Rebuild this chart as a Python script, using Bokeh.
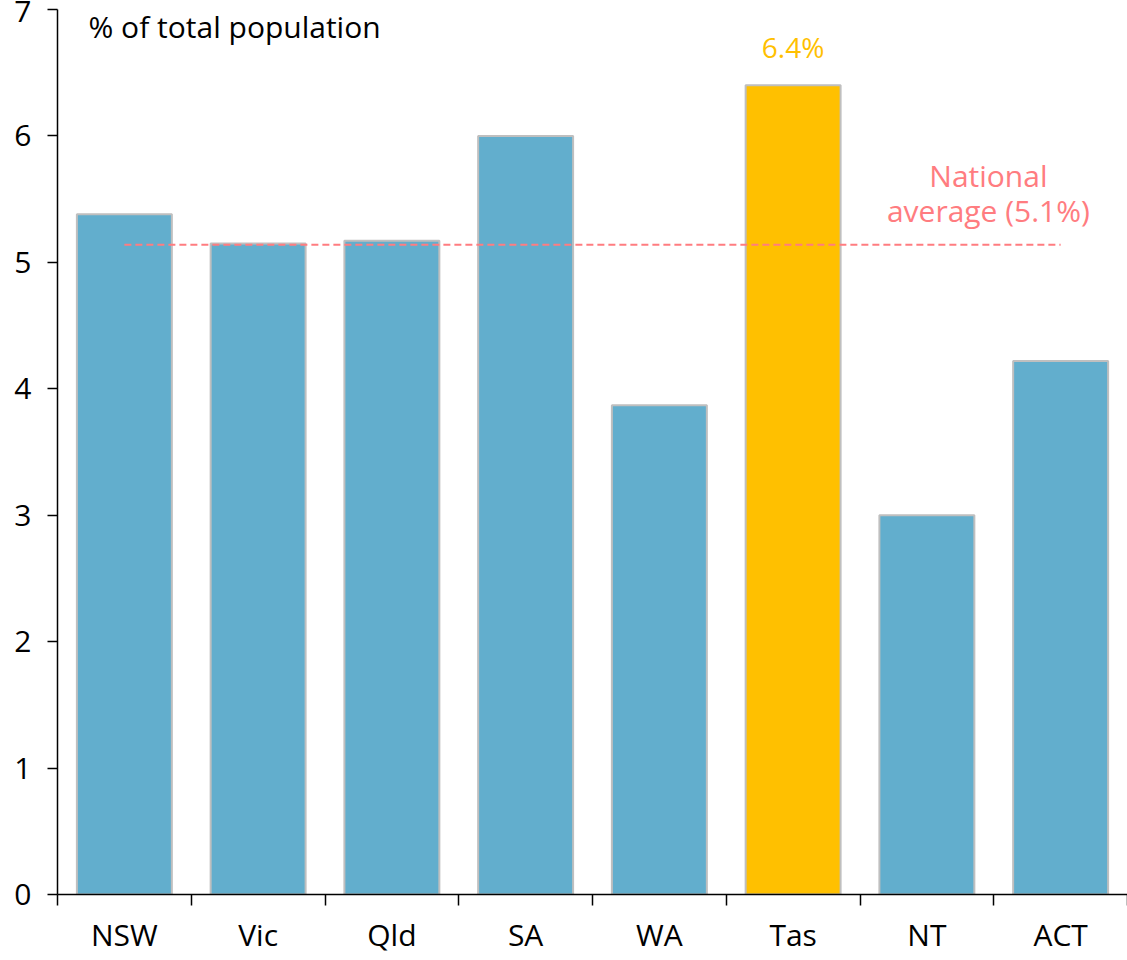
import numpy as np
from bokeh.plotting import figure
from bokeh.models import ColumnDataSource, FixedTicker, Range1d, Label
from bokeh.embed import file_html
from bokeh.resources import INLINE

states = ["NSW", "Vic", "Qld", "SA", "WA", "Tas", "NT", "ACT"]
share = [5.38, 5.15, 5.17, 6.0, 3.87, 6.4, 3.0, 4.22]
national_avg = 5.14
highlight = "Tas"
y_ticks = [0, 1, 2, 3, 4, 5, 6, 7]

BLUE = "#62AECD"
GOLD = "#FFC000"
PINK = "#FF7C80"
FONT = "Open Sans"

xpos = np.arange(len(states)) + 0.5
colors = [GOLD if s == highlight else BLUE for s in states]
src = ColumnDataSource(dict(x=xpos, top=share, color=colors, state=states))

p = figure(width=1127, height=958, output_backend="svg", toolbar_location=None,
           x_range=Range1d(0, len(states)), y_range=Range1d(0, 7),
           min_border_left=57, min_border_right=0, min_border_top=9, min_border_bottom=64)
p.outline_line_color = None
p.grid.grid_line_color = None
p.background_fill_color = "white"

p.vbar(x="x", top="top", width=0.71, bottom=0, source=src,
       fill_color="color", line_color="#BFBFBF", line_width=2)

# national average dashed line from first to last category centre
p.line(x=[xpos[0], xpos[-1]], y=[national_avg, national_avg],
       line_color=PINK, line_width=2, line_dash="7 4")

# axes
xa = p.xaxis[0]
xa.ticker = FixedTicker(ticks=list(xpos), minor_ticks=list(range(len(states) + 1)))
xa.major_label_overrides = {float(x): s for x, s in zip(xpos, states)}
xa.major_tick_line_color = None
xa.major_tick_out = 0
xa.major_tick_in = 0
xa.minor_tick_out = 11
xa.minor_tick_in = 0
xa.minor_tick_line_color = "black"
xa.minor_tick_line_width = 1.5
xa.axis_line_color = "black"
xa.axis_line_width = 1.5
xa.major_label_text_font = FONT
xa.major_label_text_font_size = "30px"
xa.major_label_text_color = "black"
xa.major_label_standoff = 8

ya = p.yaxis[0]
ya.ticker = FixedTicker(ticks=y_ticks)
ya.major_tick_out = 10
ya.major_tick_in = 0
ya.minor_tick_out = 0
ya.minor_tick_in = 0
ya.major_tick_line_color = "black"
ya.major_tick_line_width = 1.5
ya.axis_line_color = "black"
ya.axis_line_width = 1.5
ya.major_label_text_font = FONT
ya.major_label_text_font_size = "30px"
ya.major_label_text_color = "black"
ya.major_label_standoff = 16

# annotations
p.add_layout(Label(x=0.232, y=6.862, text="% of total population", text_font=FONT,
                   text_font_size="30px", text_color="black",
                   text_align="left", text_baseline="middle"))
tas_i = states.index(highlight)
p.add_layout(Label(x=xpos[tas_i], y=share[tas_i], y_offset=19, text=f"{share[tas_i]:.1f}%",
                   text_font=FONT, text_font_size="28px", text_color=GOLD,
                   text_align="center", text_baseline="bottom"))
p.add_layout(Label(x=6.96, y=national_avg, y_offset=69, text="National",
                   text_font=FONT, text_font_size="30px", text_color=PINK,
                   text_align="center", text_baseline="middle"))
p.add_layout(Label(x=6.96, y=national_avg, y_offset=34, text=f"average ({national_avg:.1f}%)",
                   text_font=FONT, text_font_size="30px", text_color=PINK,
                   text_align="center", text_baseline="middle"))

open("out.html", "w").write(file_html(p, INLINE))
